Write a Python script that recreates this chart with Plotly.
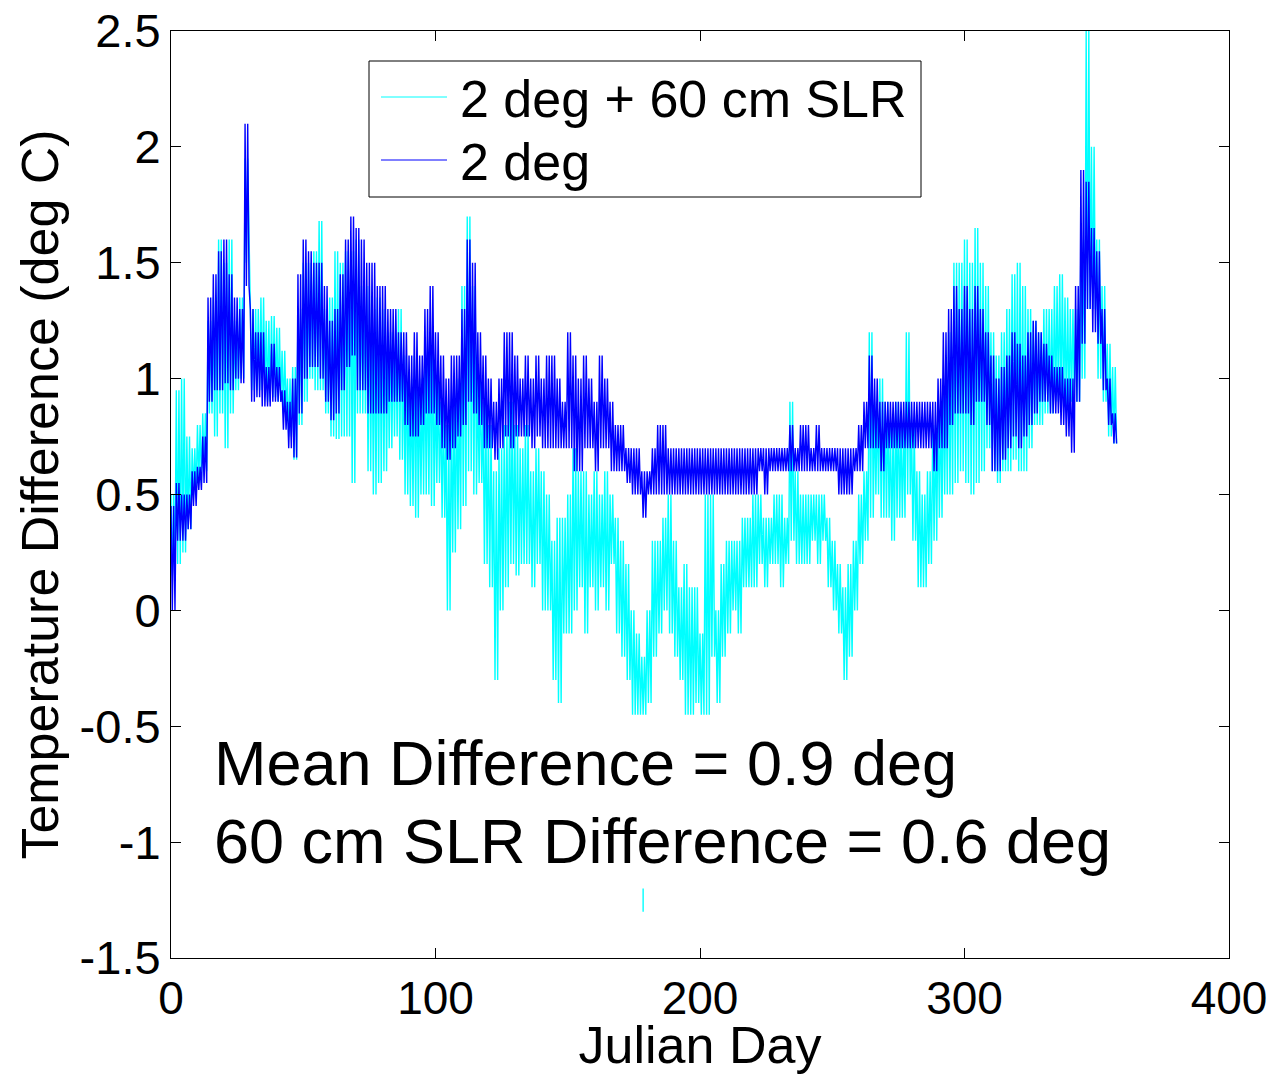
import plotly.graph_objects as go

# ---------------- data (2-day windows) ----------------
DAY_STEP = 2  # each entry below covers a 2-day window starting at day 0, 2, 4, ...

# "2 deg" run: upper / lower envelope of the hourly trace in each window
BLUE_HI = [
    0.45, 0.55, 0.5, 0.5, 0.6, 0.62, 0.75, 1.35, 1.45, 1.55,
    1.6, 1.45, 1.35, 1.3, 2.1, 1.3, 1.2, 1.2, 1.05, 1.15,
    1.05, 0.95, 0.9, 1.0, 1.45, 1.6, 1.55, 1.5, 1.5, 1.4,
    1.25, 1.3, 1.45, 1.6, 1.7, 1.65, 1.6, 1.5, 1.5, 1.4,
    1.4, 1.3, 1.3, 1.2, 1.2, 1.1, 1.2, 1.1, 1.3, 1.4,
    1.2, 1.1, 1.0, 1.1, 1.1, 1.3, 1.6, 1.5, 1.2, 1.1,
    1.0, 0.9, 1.0, 1.2, 1.2, 1.1, 1.0, 1.1, 1.0, 1.1,
    1.0, 1.1, 1.1, 1.0, 0.9, 1.2, 1.1, 1.0, 1.1, 1.0,
    0.9, 1.1, 1.0, 0.9, 0.8, 0.8, 0.7, 0.7, 0.7, 0.6,
    0.6, 0.7, 0.8, 0.8, 0.7, 0.7, 0.7, 0.7, 0.7, 0.7,
    0.7, 0.7, 0.7, 0.7, 0.7, 0.7, 0.7, 0.7, 0.7, 0.7,
    0.7, 0.7, 0.7, 0.7, 0.7, 0.7, 0.7, 0.8, 0.7, 0.8,
    0.8, 0.7, 0.8, 0.7, 0.7, 0.7, 0.7, 0.7, 0.7, 0.7,
    0.8, 0.9, 1.1, 1.0, 0.9, 0.9, 0.9, 0.9, 0.9, 0.9,
    0.9, 0.9, 0.9, 0.9, 0.9, 1.0, 1.2, 1.3, 1.4, 1.3,
    1.4, 1.3, 1.4, 1.3, 1.2, 1.1, 1.0, 1.05, 1.1, 1.2,
    1.15, 1.1, 1.2, 1.25, 1.2, 1.15, 1.1, 1.05, 1.05, 1.0,
    1.0, 1.4, 1.9, 1.85, 1.65, 1.55, 1.3, 1.0, 0.85,
]
BLUE_LO = [
    0.0, 0.3, 0.3, 0.35, 0.45, 0.52, 0.55, 0.9, 0.95, 0.95,
    0.98, 0.95, 1.0, 0.98, 1.4, 0.9, 0.92, 0.88, 0.88, 0.9,
    0.9, 0.78, 0.7, 0.66, 0.85, 1.0, 1.05, 1.05, 1.0, 0.9,
    0.82, 0.85, 0.95, 1.05, 1.1, 0.95, 0.95, 0.85, 0.85, 0.85,
    0.85, 0.9, 0.9, 0.9, 0.8, 0.75, 0.75, 0.8, 0.85, 0.85,
    0.8, 0.7, 0.65, 0.7, 0.75, 0.8, 0.9, 0.85, 0.8, 0.7,
    0.7, 0.65, 0.7, 0.75, 0.7, 0.75, 0.75, 0.75, 0.7, 0.75,
    0.7, 0.7, 0.7, 0.7, 0.7, 0.7, 0.6, 0.6, 0.7, 0.7,
    0.6, 0.7, 0.7, 0.6, 0.6, 0.6, 0.55, 0.5, 0.5, 0.4,
    0.5, 0.5, 0.5, 0.5, 0.5, 0.5, 0.5, 0.5, 0.5, 0.5,
    0.5, 0.5, 0.5, 0.5, 0.5, 0.5, 0.5, 0.5, 0.5, 0.5,
    0.5, 0.6, 0.5, 0.6, 0.6, 0.6, 0.6, 0.6, 0.6, 0.6,
    0.6, 0.6, 0.6, 0.6, 0.6, 0.6, 0.5, 0.5, 0.5, 0.6,
    0.6, 0.7, 0.7, 0.7, 0.6, 0.7, 0.7, 0.7, 0.7, 0.7,
    0.7, 0.7, 0.7, 0.7, 0.6, 0.7, 0.7, 0.8, 0.85, 0.85,
    0.85, 0.8, 0.9, 0.9, 0.8, 0.6, 0.6, 0.65, 0.7, 0.75,
    0.7, 0.75, 0.8, 0.85, 0.9, 0.9, 0.85, 0.85, 0.8, 0.75,
    0.68, 0.9, 1.15, 1.3, 1.2, 1.15, 0.95, 0.8, 0.72,
]

# "2 deg + 60 cm SLR" run
CYAN_HI = [
    0.5, 0.95, 1.0, 0.75, 0.7, 0.8, 0.85, 1.25, 1.35, 1.6,
    1.5, 1.6, 1.25, 1.35, 1.95, 1.3, 1.3, 1.35, 1.25, 1.27,
    1.22, 1.12, 1.0, 1.05, 1.3, 1.5, 1.5, 1.55, 1.68, 1.3,
    1.35, 1.55, 1.5, 1.55, 1.55, 1.6, 1.4, 1.4, 1.3, 1.35,
    1.3, 1.2, 1.2, 1.3, 1.1, 1.0, 1.1, 1.0, 1.1, 1.2,
    1.0, 0.9, 0.8, 0.9, 1.0, 1.4, 1.7, 1.4, 1.0, 0.9,
    0.8, 0.6, 0.7, 0.8, 0.9, 0.8, 0.7, 0.8, 0.6, 0.7,
    0.6, 0.5, 0.3, 0.4, 0.4, 0.5, 0.7, 0.6, 0.6, 0.5,
    0.6, 0.5, 0.6, 0.5, 0.4, 0.3, 0.2, 0.0, -0.1, -0.2,
    0.0, 0.3, 0.3, 0.4, 0.5, 0.3, 0.1, 0.2, 0.1, 0.1,
    -0.1, 0.5, 0.5, 0.0, 0.2, 0.3, 0.3, 0.3, 0.4, 0.4,
    0.5, 0.5, 0.4, 0.4, 0.5, 0.5, 0.4, 0.9, 0.6, 0.5,
    0.5, 0.5, 0.5, 0.5, 0.4, 0.3, 0.2, 0.1, 0.2, 0.3,
    0.5, 0.6, 1.2, 0.9, 1.0, 0.9, 0.8, 0.9, 0.8, 1.2,
    0.8, 0.6, 0.5, 0.6, 0.8, 0.9, 1.0, 1.2, 1.5, 1.5,
    1.6, 1.5, 1.65, 1.5, 1.4, 1.2, 1.1, 1.2, 1.3, 1.45,
    1.5, 1.4, 1.3, 1.25, 1.2, 1.3, 1.3, 1.4, 1.45, 1.35,
    1.3, 1.3, 1.6, 2.5, 2.0, 1.6, 1.4, 1.15, 1.05,
]
CYAN_LO = [
    0.15, 0.2, 0.25, 0.35, 0.5, 0.55, 0.6, 0.85, 0.75, 0.85,
    0.7, 0.85, 0.95, 1.0, 1.5, 0.95, 0.95, 0.95, 0.9, 0.92,
    0.9, 0.85, 0.75, 0.65, 0.8, 0.9, 1.0, 0.95, 0.95, 0.85,
    0.75, 0.74, 0.75, 0.75, 0.55, 0.85, 0.85, 0.6, 0.5, 0.55,
    0.6, 0.7, 0.75, 0.65, 0.5, 0.45, 0.4, 0.5, 0.5, 0.45,
    0.55, 0.4, 0.0, 0.25, 0.35, 0.45, 0.6, 0.5, 0.55, 0.2,
    0.1, -0.3, 0.0, 0.1, 0.2, 0.15, 0.2, 0.2, 0.1, 0.2,
    0.0, 0.0, -0.3, -0.4, -0.1, -0.1, 0.0, 0.1, -0.1, 0.1,
    0.0, 0.1, 0.0, 0.2, -0.1, -0.2, -0.3, -0.45, -0.45, -0.45,
    -0.4, -0.2, -0.1, 0.0, -0.1, -0.2, -0.3, -0.45, -0.45, -0.4,
    -0.45, -0.45, -0.2, -0.4, -0.2, -0.1, 0.0, -0.1, 0.1, 0.1,
    0.1, 0.2, 0.1, 0.2, 0.2, 0.1, 0.2, 0.3, 0.2, 0.2,
    0.2, 0.3, 0.2, 0.3, 0.1, 0.0, -0.1, -0.3, -0.2, 0.0,
    0.2, 0.3, 0.4, 0.5, 0.4, 0.4, 0.3, 0.4, 0.4, 0.5,
    0.3, 0.1, 0.1, 0.2, 0.3, 0.4, 0.5, 0.5, 0.55, 0.6,
    0.55, 0.5, 0.55, 0.6, 0.7, 0.6, 0.55, 0.6, 0.6, 0.65,
    0.6, 0.6, 0.7, 0.8, 0.8, 0.85, 0.85, 0.9, 0.88, 0.85,
    0.9, 0.9, 1.0, 1.3, 1.3, 1.0, 0.9, 0.75, 0.72,
]

# isolated short cyan segment near the bottom
CYAN_OUTLIER_DAY = [178.5, 178.5]
CYAN_OUTLIER_VAL = [-1.2, -1.3]

SERIES_NAMES = ["2 deg + 60 cm SLR", "2 deg"]
SERIES_COLORS = ["#00FFFF", "#0000FF"]

X_TICKS = [0, 100, 200, 300, 400]
Y_TICKS = [2.5, 2, 1.5, 1, 0.5, 0, -0.5, -1, -1.5]
Y_TICK_TEXT = ["2.5", "2", "1.5", "1", "0.5", "0", "-0.5", "-1", "-1.5"]

NOTES = ["Mean Difference = 0.9 deg", "60 cm SLR Difference = 0.6 deg"]

# ---------------- build ----------------
days = [i * DAY_STEP for i in range(len(BLUE_HI))]


def comb(hi, lo):
    xs, ys = [], []
    for d, h, l in zip(days, hi, lo):
        xs += [d, d + 0.5, d + 1, d + 1.5]
        ys += [h, l, h, l]
    return xs, ys


cx, cy = comb(CYAN_HI, CYAN_LO)
bx, by = comb(BLUE_HI, BLUE_LO)

FONT = "Liberation Sans, Arial, Helvetica, sans-serif"
LW = 1.4

fig = go.Figure()
fig.add_trace(go.Scatter(x=cx, y=cy, mode="lines", name=SERIES_NAMES[0],
                         line=dict(color=SERIES_COLORS[0], width=LW), showlegend=False))
fig.add_trace(go.Scatter(x=CYAN_OUTLIER_DAY, y=CYAN_OUTLIER_VAL, mode="lines",
                         line=dict(color=SERIES_COLORS[0], width=LW), showlegend=False))
fig.add_trace(go.Scatter(x=bx, y=by, mode="lines", name=SERIES_NAMES[1],
                         line=dict(color=SERIES_COLORS[1], width=LW), showlegend=False))

W, H = 1278, 1074
L, R, T, B = 171, 49, 31, 116
pw, ph = W - L - R, H - T - B


def px(xp):
    return (xp - L) / pw


def py(yp):
    return (H - B - yp) / ph


# manual MATLAB-style legend (positions in reference pixels)
shapes = [
    dict(type="rect", xref="paper", yref="paper", x0=px(369), x1=px(921),
         y0=py(197), y1=py(61), line=dict(color="black", width=1), fillcolor="white"),
]
annotations = []
for i, (name, col) in enumerate(zip(SERIES_NAMES, SERIES_COLORS)):
    ly = [97, 160][i]
    shapes.append(dict(type="line", xref="paper", yref="paper", x0=px(381), x1=px(447),
                       y0=py(ly), y1=py(ly), line=dict(color=col, width=1)))
    annotations.append(dict(xref="paper", yref="paper", x=px(458), y=py(ly + 2),
                            xanchor="left", yanchor="middle", showarrow=False,
                            text=name, font=dict(family=FONT, size=52, color="black")))

for i, note in enumerate(NOTES):
    ny = [763, 841][i]
    annotations.append(dict(xref="paper", yref="paper", x=px(212), y=py(ny),
                            xanchor="left", yanchor="middle", showarrow=False,
                            text=note, font=dict(family=FONT, size=63, color="black")))

fig.update_layout(
    width=W, height=H,
    margin=dict(l=L, r=R, t=T, b=B, autoexpand=False),
    paper_bgcolor="white", plot_bgcolor="white",
    font=dict(family=FONT, color="black"),
    shapes=shapes, annotations=annotations,
    showlegend=False,
)
fig.update_xaxes(
    range=[0, 400], tickvals=X_TICKS, ticks="inside", ticklen=10, tickwidth=1,
    tickcolor="black", showline=True, linecolor="black", linewidth=1, mirror="ticks",
    showgrid=False, zeroline=False, tickfont=dict(size=46, family=FONT),
    ticklabeloverflow="allow",
    title=dict(text="Julian Day", font=dict(size=52, family=FONT), standoff=6),
)
fig.update_yaxes(
    range=[-1.5, 2.5], tickvals=Y_TICKS, ticktext=Y_TICK_TEXT, ticks="inside",
    ticklen=10, tickwidth=1, tickcolor="black", showline=True, linecolor="black",
    linewidth=1, mirror="ticks", showgrid=False, zeroline=False,
    tickfont=dict(size=47, family=FONT), ticklabeloverflow="allow",
    title=dict(text="Temperature Difference (deg C)", font=dict(size=52, family=FONT), standoff=4),
)

# remove the page's default 8 px body margin so the figure sits at the window origin
fig.write_html("out.html", config={"displayModeBar": False},
               post_script="document.body.style.margin='0px';")
